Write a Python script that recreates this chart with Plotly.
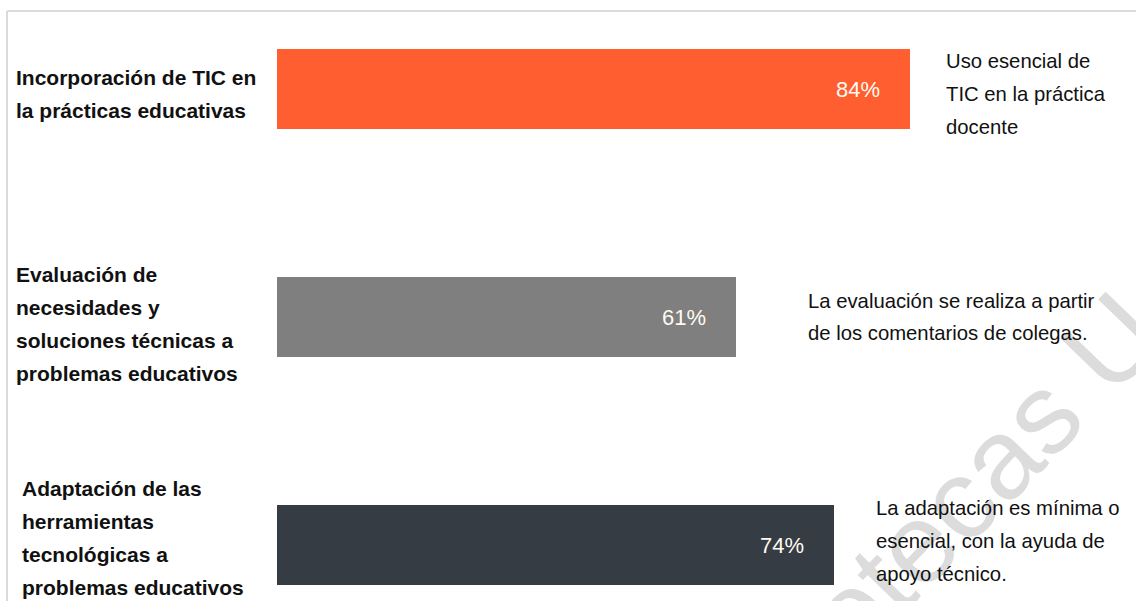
import plotly.graph_objects as go

# Survey results: share of teachers per competence area
categories = [
    ["Incorporación de TIC en", "la prácticas educativas"],
    ["Evaluación de", "necesidades y", "soluciones técnicas a", "problemas educativos"],
    ["Adaptación de las", "herramientas", "tecnológicas a", "problemas educativos"],
]
values = [84, 61, 74]
comments = [
    ["Uso esencial de", "TIC en la práctica", "docente"],
    ["La evaluación se realiza a partir", "de los comentarios de colegas."],
    ["La adaptación es mínima o", "esencial, con la ayuda de", "apoyo técnico."],
]
bar_colors = ["#FF5E30", "#7F7F7F", "#353C44"]

W, H = 1136, 601
FONT = "Liberation Sans, Arial, sans-serif"
LINE = 33  # line pitch of the multi-line labels, px


def px(x):
    return x / W


def py(y):
    return 1 - y / H


fig = go.Figure()
fig.add_trace(go.Bar(
    y=list(range(len(values))),
    x=values,
    orientation="h",
    width=0.351,
    marker=dict(color=bar_colors, line=dict(width=0)),
    hoverinfo="skip",
))

annotations = []

# faint library watermark running diagonally across the lower right
annotations.append(dict(
    text="Bibliotecas U", xref="paper", yref="paper",
    x=px(908), y=py(552), xanchor="center", yanchor="middle",
    textangle=-46, showarrow=False,
    font=dict(family=FONT, size=114, color="#DCDCDC"),
))


def add_block(lines, x, yc, bold, size):
    n = len(lines)
    for k, line in enumerate(lines):
        y = yc + (k - (n - 1) / 2) * LINE
        annotations.append(dict(
            text=f"<b>{line}</b>" if bold else line,
            xref="paper", yref="paper", x=px(x), y=py(y),
            xanchor="left", yanchor="middle", align="left", showarrow=False,
            font=dict(family=FONT, size=size, color="#111111"),
        ))


# value labels inside the bars
for i, v in enumerate(values):
    annotations.append(dict(
        text=f"{v}%", x=v - 6.9, y=i, xref="x", yref="y",
        xanchor="center", yanchor="middle", showarrow=False,
        font=dict(family=FONT, size=22, color="#FFFBF0"),
    ))

# category labels on the left
left_pos = [(14, 93.5), (14, 323.5), (20, 538)]
for (lx, ly), lines in zip(left_pos, categories):
    add_block(lines, lx, ly, True, 21)

# comments on the right of each bar
right_pos = [(944, 94), (806, 317), (874, 541)]
for (rx, ry), lines in zip(right_pos, comments):
    add_block(lines, rx, ry, False, 20.3)

scale = 7.53  # pixels per percentage point
fig.update_layout(
    width=W, height=H,
    margin=dict(l=0, r=0, t=0, b=0),
    paper_bgcolor="white", plot_bgcolor="white",
    showlegend=False,
    bargap=0,
    xaxis=dict(range=[-277 / scale, (W - 277) / scale], visible=False, fixedrange=True),
    yaxis=dict(range=[2 + (H - 545) / 228, -89 / 228], visible=False, fixedrange=True),
    annotations=annotations,
    shapes=[
        dict(type="line", xref="paper", yref="paper", x0=px(7), x1=1, y0=py(11), y1=py(11),
             line=dict(color="#DADADA", width=2)),
        dict(type="line", xref="paper", yref="paper", x0=px(7), x1=px(7), y0=py(11), y1=0,
             line=dict(color="#DADADA", width=2)),
    ],
)

fig.write_html("out.html")
